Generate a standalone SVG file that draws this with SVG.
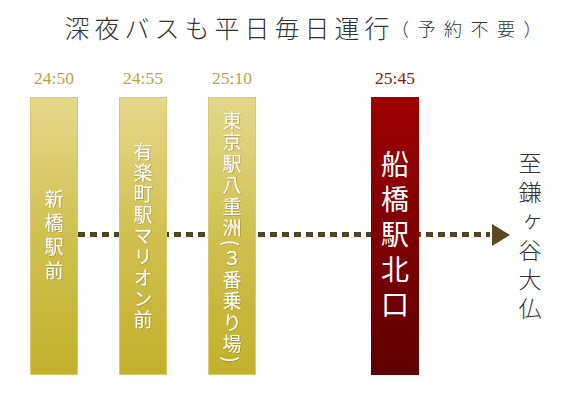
<svg xmlns="http://www.w3.org/2000/svg" width="562" height="395" viewBox="0 0 562 395">
<defs>
<linearGradient id="gold" x1="0" y1="0" x2="0" y2="1">
<stop offset="0" stop-color="#e3d88c"/>
<stop offset="0.5" stop-color="#d0c04f"/>
<stop offset="1" stop-color="#c3b02b"/>
</linearGradient>
<linearGradient id="red" x1="0" y1="0" x2="0" y2="1">
<stop offset="0" stop-color="#9e0000"/>
<stop offset="1" stop-color="#5e0000"/>
</linearGradient>
<filter id="sh" x="-20%" y="-5%" width="140%" height="110%">
<feDropShadow dx="0.5" dy="0.5" stdDeviation="0.6" flood-color="#6b5a10" flood-opacity="0.6"/>
</filter>
<style>
.title{font-family:"Noto Sans CJK JP",sans-serif;font-weight:300;fill:#333}
.time{font-family:"Liberation Serif",serif;font-size:17.5px;text-anchor:middle}
.tg{fill:#b8a43c}
.tr{fill:#8a1515}
.bar-g{fill:url(#gold);stroke:#d8ca6c;stroke-width:1}
.bar-r{fill:url(#red)}
.vt{font-family:"Noto Sans CJK JP",sans-serif;writing-mode:vertical-rl;text-anchor:middle;fill:#fff}
.dest{font-family:"Noto Sans CJK JP",sans-serif;font-weight:300;writing-mode:vertical-rl;text-anchor:middle;fill:#333}
</style>
</defs>
<text class="title" x="64.5" y="38" font-size="25" letter-spacing="5">深夜バスも平日毎日運行</text>
<text class="title" x="391" y="36" font-size="18" letter-spacing="8.5">（予約不要）</text>
<g id="connectors">
<line x1="78" y1="234.5" x2="490" y2="234.5" stroke="#4f4326" stroke-width="5" stroke-dasharray="7 5"/>
<polygon points="492,224 510,235 492,246" fill="#5a4a1f"/>
</g>
<g id="stop1">
<text class="time tg" x="54" y="83.5">24:50</text>
<rect class="bar-g" x="30.5" y="97.5" width="47" height="277"/>
<text class="vt" x="54" y="237" font-size="19" letter-spacing="5" filter="url(#sh)">新橋駅前</text>
</g>
<g id="stop2">
<text class="time tg" x="143" y="83.5">24:55</text>
<rect class="bar-g" x="119.5" y="97.5" width="47" height="277"/>
<text class="vt" x="143" y="237" font-size="19" letter-spacing="2" filter="url(#sh)">有楽町駅マリオン前</text>
</g>
<g id="stop3">
<text class="time tg" x="232" y="83.5">25:10</text>
<rect class="bar-g" x="208.5" y="97.5" width="47" height="277"/>
<text class="vt" x="232" y="238" font-size="19" letter-spacing="2.5" filter="url(#sh)">東京駅八重洲(３番乗り場)</text>
</g>
<g id="stop4">
<text class="time tr" x="395" y="83.5">25:45</text>
<rect class="bar-r" x="371" y="97" width="48" height="278"/>
<text class="vt" x="395" y="238" font-size="28" letter-spacing="7">船橋駅北口</text>
</g>
<g id="destination">
<text class="dest" x="530" y="239" font-size="23" letter-spacing="6">至鎌ヶ谷大仏</text>
</g>
</svg>
